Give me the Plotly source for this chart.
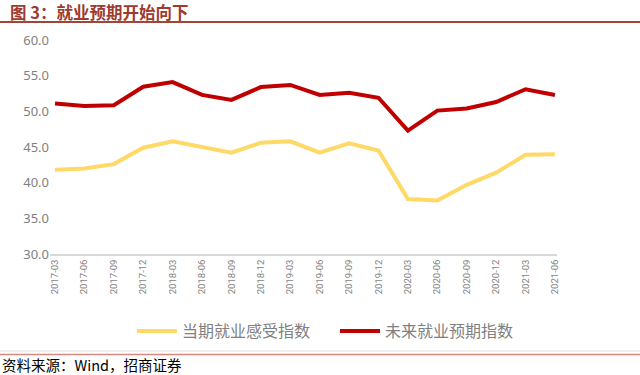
import plotly.graph_objects as go

categories = ["2017-03","2017-06","2017-09","2017-12","2018-03","2018-06","2018-09","2018-12",
              "2019-03","2019-06","2019-09","2019-12","2020-03","2020-06","2020-09","2020-12",
              "2021-03","2021-06"]
current_index = [41.8, 42.0, 42.6, 44.9, 45.8, 45.0, 44.2, 45.6, 45.8, 44.2, 45.5, 44.5,
                 37.7, 37.5, 39.7, 41.4, 43.9, 44.0]
future_index = [51.1, 50.75, 50.85, 53.45, 54.1, 52.3, 51.6, 53.4, 53.7, 52.3, 52.6, 51.9,
                47.3, 50.1, 50.4, 51.3, 53.1, 52.3]
y_ticks = [30, 35, 40, 45, 50, 55, 60]

W, H = 640, 375
L, R, T, B = 50, 83, 40, 121
pw, ph = W - L - R, H - T - B

def px(xp):
    return (xp - L) / pw

def py(yp):
    return (H - B - yp) / ph

fig = go.Figure()
fig.add_trace(go.Scatter(x=categories, y=current_index, mode="lines", name="当期就业感受指数",
                         line=dict(color="#FFD966", width=4)))
fig.add_trace(go.Scatter(x=categories, y=future_index, mode="lines", name="未来就业预期指数",
                         line=dict(color="#C00000", width=4)))

fig.update_layout(
    width=W, height=H,
    margin=dict(l=L, r=R, t=T, b=B),
    paper_bgcolor="white", plot_bgcolor="white",
    showlegend=True,
    legend=dict(orientation="h", x=px(132), xanchor="left", y=py(331), yanchor="middle",
                font=dict(family="Noto Sans CJK SC", size=16, color="#808080"),
                itemwidth=40, entrywidth=148, entrywidthmode="pixels",
                traceorder="normal", bgcolor="rgba(0,0,0,0)"),
    xaxis=dict(type="category", range=[-0.17, 17.07], tickangle=-90,
               showgrid=False, showline=True, linecolor="#D9D9D9", linewidth=1.5,
               ticks="", tickfont=dict(family="Roboto", size=9.5, color="#7F7F7F")),
    yaxis=dict(range=[30, 60], tickvals=y_ticks, ticktext=[f"{v:.1f}" for v in y_ticks],
               showgrid=False, zeroline=False, showline=False, ticks="",
               tickfont=dict(family="Noto Sans", size=13, color="#7F7F7F")),
)

# title and rules
fig.add_annotation(xref="paper", yref="paper", x=px(8), y=py(12), xanchor="left", yanchor="middle",
                   text="<b>图 3：就业预期开始向下</b>", showarrow=False,
                   font=dict(family="Noto Sans CJK SC", size=16.5, color="#9E3A2E"))
fig.add_shape(type="line", xref="paper", yref="paper", x0=px(0), x1=px(640), y0=py(22), y1=py(22),
              line=dict(color="#A0453A", width=2))
fig.add_shape(type="line", xref="paper", yref="paper", x0=px(0), x1=px(640), y0=py(351), y1=py(351),
              line=dict(color="#E0E0E0", width=1))
fig.add_shape(type="line", xref="paper", yref="paper", x0=px(0), x1=px(640), y0=py(354.5), y1=py(354.5),
              line=dict(color="#D98880", width=1.5))
fig.add_annotation(xref="paper", yref="paper", x=px(0), y=py(364), xanchor="left", yanchor="middle",
                   text="资料来源：Wind，招商证券", showarrow=False,
                   font=dict(family="Noto Sans CJK SC", size=14.5, color="#000000"))

fig.write_html("out.html", config={"displayModeBar": False},
               post_script="document.body.style.margin='0';document.body.style.padding='0';")
